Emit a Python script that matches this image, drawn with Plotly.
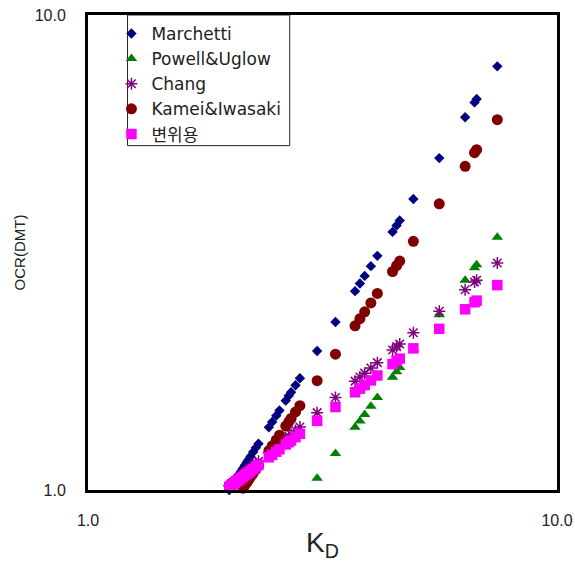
import plotly.graph_objects as go

# K_D values (shared by all correlations)
kd = [2.00, 2.02, 2.04, 2.06, 2.08, 2.10, 2.12, 2.14, 2.16, 2.18, 2.20, 2.22, 2.25, 2.28, 2.31,
      2.43, 2.47, 2.52, 2.56, 2.64, 2.68, 2.71, 2.77, 2.83, 3.08, 3.37, 3.71, 3.80, 3.89, 4.01,
      4.14, 4.46, 4.55, 4.62, 4.94, 5.61, 6.37, 6.67, 6.74, 7.46]

marchetti = [1.000, 1.016, 1.031, 1.047, 1.063, 1.079, 1.095, 1.111, 1.128, 1.144, 1.160, 1.177,
             1.202, 1.227, 1.252, 1.355, 1.390, 1.434, 1.470, 1.542, 1.579, 1.606, 1.662, 1.719,
             1.961, 2.257, 2.622, 2.722, 2.823, 2.960, 3.111, 3.494, 3.605, 3.692, 4.098, 4.997,
             6.093, 6.547, 6.654, 7.796]

powell = [None] * 24 + [1.059, 1.193, 1.355, 1.398, 1.442, 1.501, 1.566, 1.727, 1.773, 1.810,
                        1.977, 2.338, 2.765, 2.938, 2.979, 3.406]

chang = [1.021, 1.030, 1.038, 1.046, 1.055, 1.063, 1.071, 1.079, 1.088, 1.096, 1.104, 1.112,
         1.125, 1.137, 1.149, 1.198, 1.214, 1.234, 1.250, 1.282, 1.298, 1.310, 1.334, 1.357,
         1.455, 1.566, 1.695, 1.729, 1.762, 1.806, 1.854, 1.971, 2.004, 2.029, 2.143, 2.379,
         2.640, 2.742, 2.765, 3.005]

kamei = [None] * 5 + [0.982, 0.996, 1.009, 1.023, 1.036, 1.050, 1.064, 1.084, 1.105, 1.126,
                      1.210, 1.239, 1.275, 1.304, 1.363, 1.392, 1.415, 1.460, 1.505, 1.699,
                      1.932, 2.216, 2.294, 2.372, 2.477, 2.593, 2.884, 2.968, 3.033, 3.338,
                      4.004, 4.802, 5.129, 5.206, 6.019]

byeon = [1.014, 1.021, 1.029, 1.036, 1.044, 1.051, 1.059, 1.066, 1.074, 1.081, 1.088, 1.096,
         1.107, 1.118, 1.129, 1.172, 1.186, 1.204, 1.218, 1.247, 1.261, 1.271, 1.292, 1.313,
         1.398, 1.495, 1.606, 1.634, 1.663, 1.701, 1.742, 1.841, 1.869, 1.890, 1.987, 2.184,
         2.401, 2.484, 2.504, 2.700]

series = [
    ("Marchetti", marchetti, "diamond", "#000080", 8),
    ("Powell&Uglow", powell, "triangle-up", "#008000", 10),
    ("Chang", chang, "asterisk-open", "#800080", 10),
    ("Kamei&Iwasaki", kamei, "circle", "#800000", 11),
    ("변위용", byeon, "square", "#FF00FF", 10.5),
]

fig = go.Figure()
for name, vals, sym, col, sz in series:
    fig.add_trace(go.Scatter(
        x=kd, y=vals, mode="markers", name=name, cliponaxis=False,
        marker=dict(symbol=sym, color=col, size=sz,
                    line=dict(color=col, width=1.5 if "open" in sym else 0)),
    ))

tick_font = dict(family="Liberation Sans, Arial", size=16, color="#222")

# legend frame (layout decoration, paper coordinates)
fig.add_shape(type="rect", xref="paper", yref="paper",
              x0=0.0843, x1=0.4301, y0=0.725, y1=1.0,
              line=dict(color="#222", width=1), fillcolor="white", layer="below")

fig.update_layout(
    width=575, height=562,
    margin=dict(l=88, r=18, t=15, b=72),
    paper_bgcolor="white", plot_bgcolor="white",
    showlegend=True,
    legend=dict(x=0.050, y=0.998, xanchor="left", yanchor="top",
                borderwidth=0, bgcolor="rgba(0,0,0,0)",
                font=dict(family="DejaVu Sans, Noto Sans CJK KR", size=17, color="#222"),
                tracegroupgap=0),
    xaxis=dict(type="log", range=[0, 1], tickvals=[1, 10], ticktext=["1.0", "10.0"],
               showgrid=False, zeroline=False, showline=True, linecolor="black",
               linewidth=3, mirror=True, ticks="", tickfont=tick_font,
               ticklabelstandoff=14, automargin=False,
               title=dict(text="K<sub>D</sub>", standoff=10,
                          font=dict(family="Liberation Sans Narrow, Liberation Sans", size=28, color="#222"))),
    yaxis=dict(type="log", range=[0, 1], tickvals=[1, 10], ticktext=["1.0", "10.0"],
               showgrid=False, zeroline=False, showline=True, linecolor="black",
               linewidth=3, mirror=True, ticks="", tickfont=tick_font,
               ticklabelstandoff=16, automargin=False,
               title=dict(text="OCR(DMT)", standoff=6,
                          font=dict(family="Liberation Sans, Arial", size=15, color="#222"))),
)

fig.write_html("out.html")
